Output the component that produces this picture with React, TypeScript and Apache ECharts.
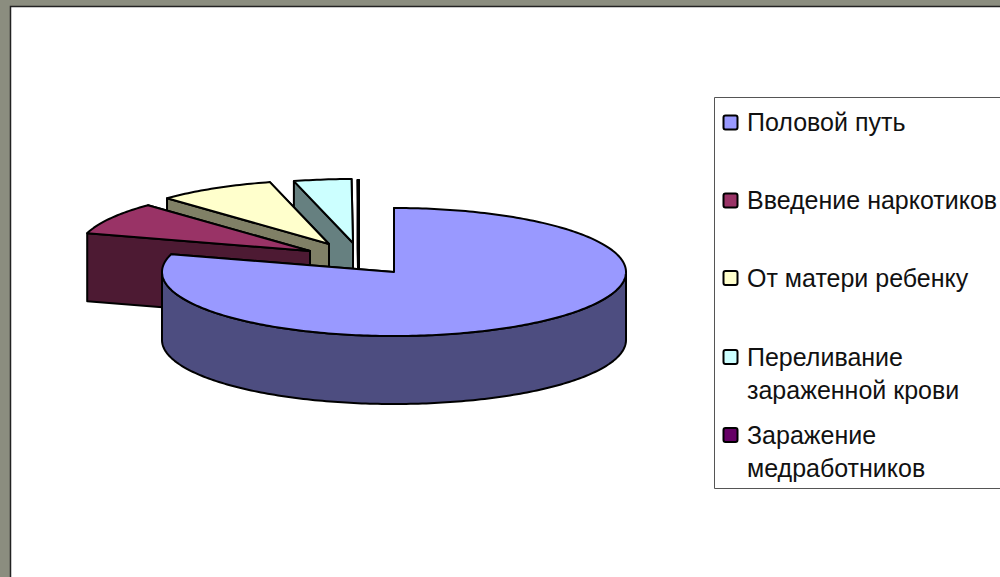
import React, { useEffect, useRef } from "react";
import * as echarts from "echarts";

const categories = [
  "Половой путь",
  "Введение наркотиков",
  "От матери ребенку",
  "Переливание\nзараженной крови",
  "Заражение\nмедработников",
];
const shares = [79.5, 8.2, 8.2, 4.0, 0.1];

// Styles and layout, kept apart from the data
const topColors = ["#9999ff", "#993366", "#ffffcc", "#ccffff", "#660066"];
const sideColors = ["#4d4d80", "#4d1a33", "#808066", "#668080", "#330033"];
const explodeX = [0, -84, -65, -41, -35];
const explodeY = [0, -21, -28, -29, -28];
const paintRank = [4, 3, 2, 1, 0];
const CX = 394;
const CY = 272;
const RX = 232;
const RY = 64;
const DEPTH = 68;
const legendRowY = [122.5, 200.5, 278, 357, 435];

const total = shares.reduce((a, b) => a + b, 0);
const startAngle = (i: number) =>
  (shares.slice(0, i).reduce((a, b) => a + b, 0) / total) * 360;

const rim = (ax: number, ay: number, deg: number) => {
  const r = (deg * Math.PI) / 180;
  return [ax + RX * Math.sin(r), ay - RY * Math.cos(r)];
};

const arcPoints = (ax: number, ay: number, from: number, to: number) => {
  const pts: number[][] = [];
  const steps = Math.max(2, Math.ceil(Math.abs(to - from)));
  for (let k = 0; k <= steps; k++) {
    pts.push(rim(ax, ay, from + ((to - from) * k) / steps));
  }
  return pts;
};

const renderSlice = (params: any) => {
  const i = params.dataIndex;
  const a0 = startAngle(i);
  const a1 = startAngle(i + 1);
  const ax = CX + explodeX[i];
  const ay = CY + explodeY[i];
  const rank = paintRank[i] * 10;
  const style = (fill: string) => ({
    fill,
    stroke: "#000",
    lineWidth: 2,
    lineJoin: "round",
  });
  const children: any[] = [];
  const face = (deg: number, z: number) => {
    const p = rim(ax, ay, deg);
    children.push({
      type: "polygon",
      z2: rank + z,
      shape: {
        points: [
          [ax, ay],
          p,
          [p[0], p[1] + DEPTH],
          [ax, ay + DEPTH],
        ],
      },
      style: style(sideColors[i]),
    });
  };
  face(a1, 0);
  face(a0, 1);
  const wallFrom = Math.max(a0, 90);
  const wallTo = Math.min(a1, 270);
  if (wallTo > wallFrom) {
    const upper = arcPoints(ax, ay, wallFrom, wallTo);
    const lower = upper.map((p) => [p[0], p[1] + DEPTH]).reverse();
    children.push({
      type: "polygon",
      z2: rank + 2,
      shape: { points: upper.concat(lower) },
      style: style(sideColors[i]),
    });
  }
  children.push({
    type: "polygon",
    z2: rank + 3,
    shape: { points: [[ax, ay], ...arcPoints(ax, ay, a0, a1)] },
    style: style(topColors[i]),
  });
  return { type: "group", children };
};

const legendGraphics = () => {
  const out: any[] = [
    {
      type: "rect",
      z: 5,
      shape: { x: 714.5, y: 97.5, width: 400, height: 391 },
      style: { fill: "#fff", stroke: "#555", lineWidth: 1 },
    },
  ];
  categories.forEach((name, i) => {
    out.push({
      type: "rect",
      z: 6,
      shape: { x: 723.5, y: legendRowY[i] - 7, width: 14, height: 14, r: 2 },
      style: { fill: topColors[i], stroke: "#000", lineWidth: 2 },
    });
    out.push({
      type: "text",
      z: 6,
      x: 747,
      y: legendRowY[i] - 17,
      style: {
        text: name,
        fill: "#111",
        font: '25px "Liberation Sans", Arial, sans-serif',
        lineHeight: 33.5,
        verticalAlign: "top",
      },
    });
  });
  return out;
};

export default function App() {
  const ref = useRef<HTMLDivElement>(null);
  useEffect(() => {
    const chart = echarts.init(ref.current!, null, { renderer: "svg" });
    chart.setOption({
      animation: false,
      backgroundColor: "#8b8d7f",
      graphic: [
        {
          type: "rect",
          z: 0,
          shape: { x: 10.5, y: 6.5, width: 1100, height: 700 },
          style: { fill: "#fff", stroke: "#222", lineWidth: 1.5 },
        },
        ...legendGraphics(),
      ],
      series: [
        {
          type: "custom",
          coordinateSystem: "none",
          z: 3,
          data: categories.map((name, i) => ({ name, value: shares[i] })),
          renderItem: renderSlice,
        },
      ],
    });
    return () => chart.dispose();
  }, []);
  return (
    <div
      ref={ref}
      style={{ position: "fixed", left: 0, top: 0, width: 1000, height: 577 }}
    />
  );
}
